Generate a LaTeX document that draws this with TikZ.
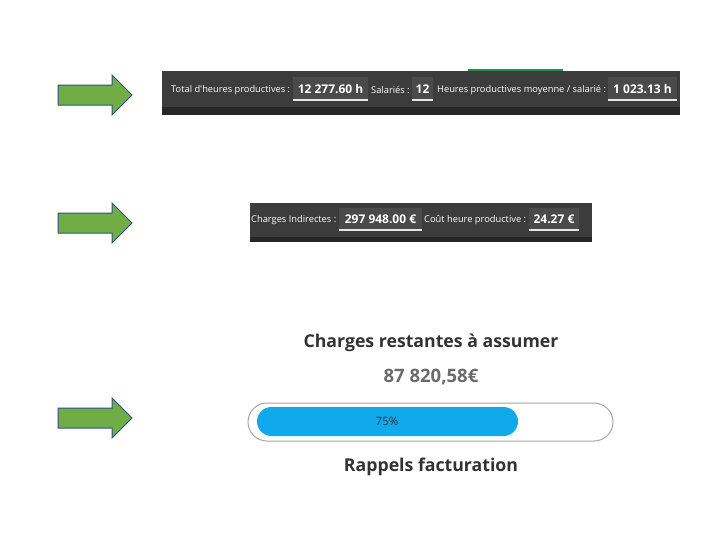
\documentclass[tikz,border=0pt]{standalone}
\usepackage{fontspec}
\setmainfont{Open Sans}
\newfontfamily\uifont{Open Sans}
\definecolor{bardark}{HTML}{3C3C3C}
\definecolor{barstrip}{HTML}{272727}
\definecolor{valbg}{HTML}{4A4A4A}
\definecolor{lineW}{HTML}{E6E6E6}
\definecolor{arrowfill}{HTML}{70AD47}
\definecolor{arrowline}{HTML}{2F528F}
\definecolor{progblue}{HTML}{10A9EC}
\definecolor{progline}{HTML}{A6A6A6}
\definecolor{headtxt}{HTML}{333333}
\definecolor{amounttxt}{HTML}{6A6A6A}
\definecolor{btngreen}{HTML}{1F8F4F}
\tikzset{
  greenarrow/.style={fill=arrowfill, draw=arrowline, line width=1pt, line join=miter},
  barlabel/.style={anchor=west, inner sep=0pt, text=white, font=\uifont\fontsize{9.3}{11}\selectfont},
  valbox/.style={fill=valbg, inner sep=0pt, text=white, font=\uifont\bfseries\fontsize{12}{14}\selectfont},
  heading/.style={inner sep=0pt, text=headtxt, font=\uifont\bfseries\fontsize{17.7}{21}\selectfont},
}
\begin{document}
\begin{tikzpicture}[x=1pt,y=-1pt]
\useasboundingbox (0,0) rectangle (728,547);
\fill[white] (0,0) rectangle (728,547);

% arrows
\foreach \n/\cy in {a1/95, a2/223, a3/418}{
  \draw[greenarrow] (58,\cy-10) -- (112,\cy-10) -- (112,\cy-20) -- (132,\cy) -- (112,\cy+20) -- (112,\cy+10) -- (58,\cy+10) -- cycle;
}

% cropped green button above bar 1
\fill[btngreen] (468,68.5) rectangle (563,72);

% bar 1
\fill[bardark] (162,71) rectangle (680,107);
\fill[barstrip] (162,107) rectangle (680,115);
\node[barlabel] (l1) at (171,90) {Total d'heures productives :};
\node[valbox, minimum width=75pt, minimum height=24pt] (v1) at (330.5,89) {12 277.60 h};
\draw[lineW, line width=1.8pt] (v1.south west) ++(0,-1.5) -- ++(75,0);
\node[barlabel] (l2) at (371,90) {Salariés :};
\node[valbox, minimum width=21pt, minimum height=24pt] (v2) at (422.5,89) {12};
\draw[lineW, line width=1.8pt] (v2.south west) ++(0,-1.5) -- ++(21,0);
\node[barlabel] (l3) at (437,90) {Heures productives moyenne / salarié :};
\node[valbox, minimum width=69pt, minimum height=24pt] (v3) at (642.5,89) {1 023.13 h};
\draw[lineW, line width=1.8pt] (v3.south west) ++(0,-1.5) -- ++(69,0);

% bar 2
\fill[bardark] (250,203) rectangle (592,237);
\fill[barstrip] (250,237) rectangle (592,242);
\node[barlabel] (l4) at (251,220) {Charges Indirectes :};
\node[valbox, minimum width=83pt, minimum height=23pt] (v4) at (380.5,219.5) {297 948.00 €};
\draw[lineW, line width=1.8pt] (v4.south west) ++(0,-1.5) -- ++(83,0);
\node[barlabel] (l5) at (424,220) {Coût heure productive :};
\node[valbox, minimum width=50pt, minimum height=23pt] (v5) at (554,219.5) {24.27 €};
\draw[lineW, line width=1.8pt] (v5.south west) ++(0,-1.5) -- ++(50,0);

% progress section
\node[heading] (h1) at (431,343) {Charges restantes à assumer};
\node[inner sep=0pt, text=amounttxt, font=\uifont\bfseries\fontsize{18.5}{22}\selectfont] (amt) at (431,377) {87 820,58€};
\draw[progline, line width=1pt, rounded corners=19pt] (248,403) rectangle (613,441);
\fill[progblue, rounded corners=14.5pt] (257,407) rectangle (518,436);
\node[inner sep=0pt, text=headtxt, font=\uifont\fontsize{11.5}{13}\selectfont] (pct) at (387,421.5) {75\%};
\node[heading] (h2) at (431,467) {Rappels facturation};
\end{tikzpicture}
\end{document}
